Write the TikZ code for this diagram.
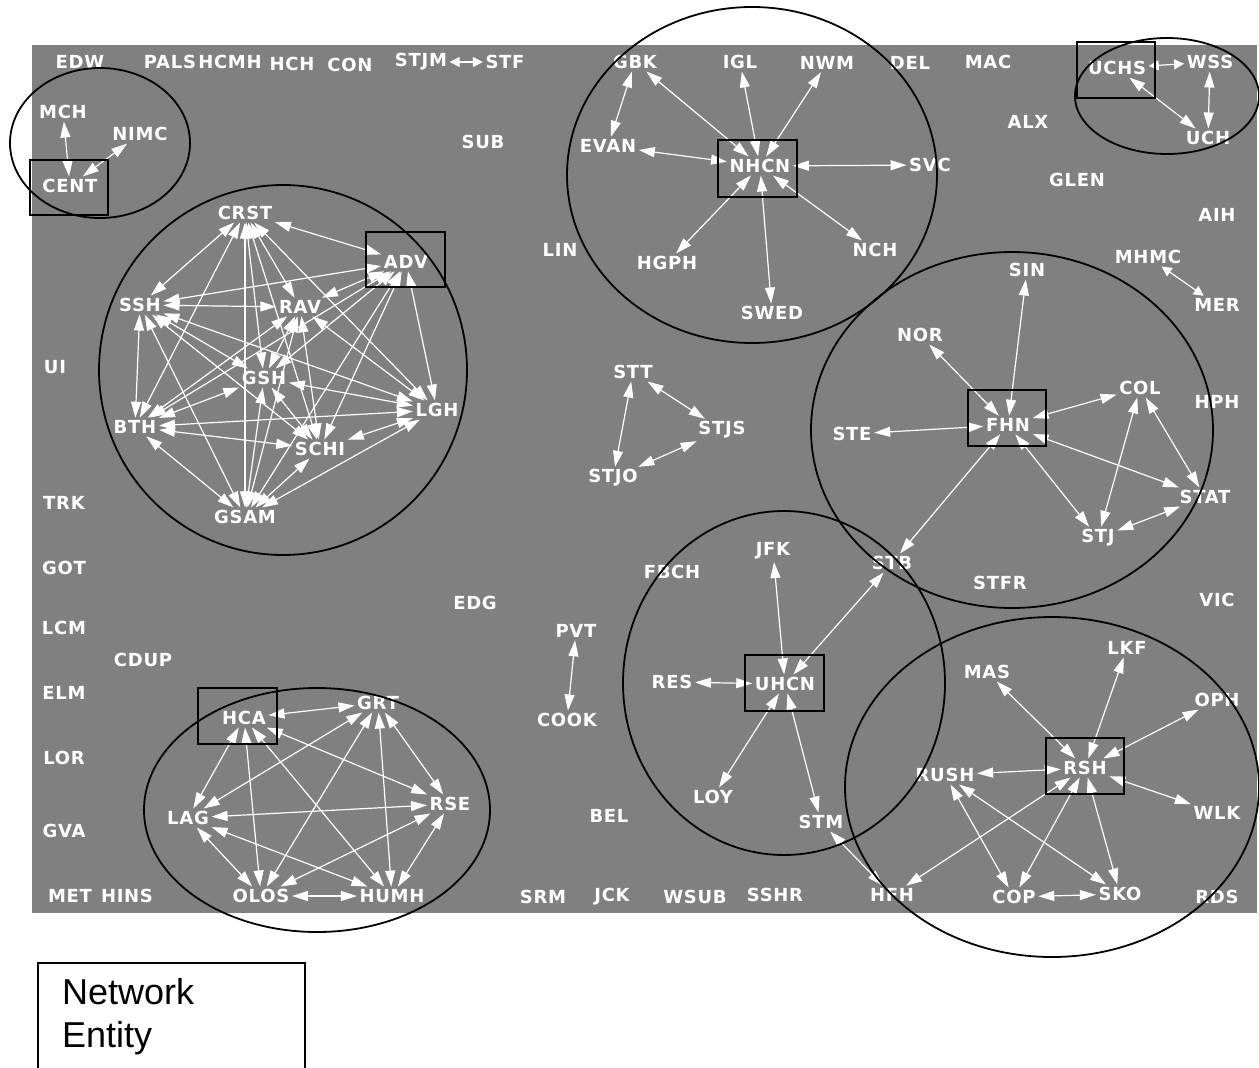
\documentclass[tikz,border=0pt]{standalone}
\usepackage{fontspec}
\usetikzlibrary{arrows.meta}
\newfontfamily\labfont{DejaVu Sans}[LetterSpace=4]
\newfontfamily\legfont{Liberation Sans}
\definecolor{bggray}{RGB}{128,128,128}
\begin{document}
\begin{tikzpicture}[x=1pt,y=-1pt,
  lab/.style={text=white,font=\labfont\bfseries\fontsize{18}{18}\selectfont,inner sep=2.5pt},
  con/.style={white,line width=1.2pt,{Triangle[length=16pt,width=10pt]}-{Triangle[length=16pt,width=10pt]}},
  small/.style={white,line width=1.2pt,{Triangle[length=10pt,width=10pt]}-{Triangle[length=10pt,width=10pt]}},
  hub/.style={draw=black,line width=1.8pt},
  grp/.style={draw=black,line width=1.8pt}]
\useasboundingbox (0,0) rectangle (1259,1068);
\fill[bggray] (32,45) rectangle (1257,913);

% ---------- labels ----------
\node[lab] (EDW)  at (80,62) {EDW};
\node[lab] (PALS) at (170,62) {PALS};
\node[lab] (HCMH) at (230,62) {HCMH};
\node[lab] (HCH)  at (292,64) {HCH};
\node[lab] (CON)  at (350,65) {CON};
\node[lab] (STJM) at (421,62) {STJM};
\node[lab] (STF)  at (505,62) {STF};
\node[lab] (MCH)  at (63,112) {MCH};
\node[lab] (NIMC) at (140,134) {NIMC};
\node[lab] (CENT) at (70,186) {CENT};
\node[lab] (SUB)  at (483,142) {SUB};
\node[lab] (GBK)  at (635,62) {GBK};
\node[lab] (IGL)  at (740,62) {IGL};
\node[lab] (NWM)  at (827,63) {NWM};
\node[lab] (DEL)  at (910,63) {DEL};
\node[lab] (MAC)  at (988,62) {MAC};
\node[lab] (UCHS) at (1117,68) {UCHS};
\node[lab] (WSS)  at (1210,62) {WSS};
\node[lab] (UCH)  at (1208,138) {UCH};
\node[lab] (ALX)  at (1028,122) {ALX};
\node[lab] (GLEN) at (1077,180) {GLEN};
\node[lab] (AIH)  at (1217,215) {AIH};
\node[lab] (MHMC) at (1148,257) {MHMC};
\node[lab] (MER)  at (1217,305) {MER};
\node[lab] (HPH)  at (1217,402) {HPH};
\node[lab] (VIC)  at (1217,600) {VIC};
\node[lab] (EVAN) at (608,146) {EVAN};
\node[lab] (NHCN) at (760,166) {NHCN};
\node[lab] (SVC)  at (930,165) {SVC};
\node[lab] (HGPH) at (667,263) {HGPH};
\node[lab] (SWED) at (772,313) {SWED};
\node[lab] (NCH)  at (875,250) {NCH};
\node[lab] (LIN)  at (560,250) {LIN};
\node[lab] (UI)   at (55,367) {UI};
\node[lab] (TRK)  at (64,503) {TRK};
\node[lab] (GOT)  at (64,568) {GOT};
\node[lab] (LCM)  at (64,628) {LCM};
\node[lab] (CDUP) at (143,660) {CDUP};
\node[lab] (ELM)  at (64,693) {ELM};
\node[lab] (LOR)  at (64,758) {LOR};
\node[lab] (GVA)  at (64,831) {GVA};
\node[lab] (MET)  at (70,896) {MET};
\node[lab] (HINS) at (127,896) {HINS};
% cluster 1
\node[lab] (CRST) at (245,213) {CRST};
\node[lab] (ADV)  at (406,262) {ADV};
\node[lab] (SSH)  at (140,305) {SSH};
\node[lab] (RAV)  at (300,307) {RAV};
\node[lab] (GSH)  at (264,378) {GSH};
\node[lab] (BTH)  at (135,427) {BTH};
\node[lab] (LGH)  at (437,410) {LGH};
\node[lab] (SCHI) at (320,449) {SCHI};
\node[lab] (GSAM) at (245,517) {GSAM};
% triangle
\node[lab] (STT)  at (633,372) {STT};
\node[lab] (STJS) at (722,430) {STJS};
\node[lab] (STJO) at (613,478) {STJO};
% FHN
\node[lab] (FHN)  at (1008,425) {FHN};
\node[lab] (SIN)  at (1027,270) {SIN};
\node[lab] (NOR)  at (920,335) {NOR};
\node[lab] (COL)  at (1140,388) {COL};
\node[lab] (STE)  at (852,434) {STE};
\node[lab] (STAT) at (1205,497) {STAT};
\node[lab] (STJ)  at (1098,538) {STJ};
\node[lab] (STB)  at (892,563) {STB};
\node[lab] (STFR) at (1000,583) {STFR};
% UHCN
\node[lab] (FBCH) at (672,572) {FBCH};
\node[lab] (EDG)  at (475,603) {EDG};
\node[lab] (JFK)  at (773,551) {JFK};
\node[lab] (UHCN) at (785,684) {UHCN};
\node[lab] (RES)  at (672,682) {RES};
\node[lab] (LOY)  at (713,797) {LOY};
\node[lab] (STM)  at (821,822) {STM};
\node[lab] (PVT)  at (576,631) {PVT};
\node[lab] (COOK) at (567,720) {COOK};
\node[lab] (BEL)  at (609,816) {BEL};
% bottom row
\node[lab] (SRM)  at (543,897) {SRM};
\node[lab] (JCK)  at (612,897) {JCK};
\node[lab] (WSUB) at (695,897) {WSUB};
\node[lab] (SSHR) at (775,895) {SSHR};
\node[lab] (HFH)  at (892,895) {HFH};
\node[lab] (COP)  at (1014,897) {COP};
\node[lab] (SKO)  at (1120,894) {SKO};
\node[lab] (RDS)  at (1217,897) {RDS};
% RSH
\node[lab] (RSH)  at (1085,768) {RSH};
\node[lab] (MAS)  at (987,672) {MAS};
\node[lab] (LKF)  at (1127,648) {LKF};
\node[lab] (OPH)  at (1217,700) {OPH};
\node[lab] (RUSH) at (945,775) {RUSH};
\node[lab] (WLK)  at (1217,813) {WLK};
% HCA
\node[lab] (HCA)  at (244,718) {HCA};
\node[lab] (GRT)  at (378,703) {GRT};
\node[lab] (LAG)  at (188,818) {LAG};
\node[lab] (RSE)  at (450,804) {RSE};
\node[lab] (OLOS) at (261,896) {OLOS};
\node[lab] (HUMH) at (392,896) {HUMH};

% ---------- connectors ----------
\draw[small] (STJM) -- (STF);
\draw[small] (UCHS) -- (WSS);
\draw[small] (MHMC) -- (MER);
\draw[con] (MCH) -- (CENT);
\draw[con] (NIMC) -- (CENT);
\draw[con] (UCHS) -- (UCH);
\draw[con] (WSS) -- (UCH);
\foreach \a in {GBK,IGL,NWM,EVAN,SVC,HGPH,SWED,NCH} \draw[con] (NHCN) -- (\a);
\draw[con] (GBK) -- (EVAN);
\foreach \a/\b in {CRST/ADV,CRST/SSH,CRST/RAV,CRST/GSH,CRST/BTH,CRST/LGH,CRST/SCHI,CRST/GSAM,
  ADV/SSH,ADV/RAV,ADV/GSH,ADV/BTH,ADV/LGH,ADV/SCHI,ADV/GSAM,
  SSH/RAV,SSH/GSH,SSH/BTH,SSH/LGH,SSH/SCHI,SSH/GSAM,
  RAV/GSH,RAV/BTH,RAV/LGH,RAV/SCHI,RAV/GSAM,
  GSH/BTH,GSH/LGH,GSH/SCHI,GSH/GSAM,
  BTH/LGH,BTH/SCHI,BTH/GSAM,
  LGH/SCHI,LGH/GSAM,
  SCHI/GSAM} \draw[con] (\a) -- (\b);
\draw[con] (STT) -- (STJO);
\draw[con] (STT) -- (STJS);
\draw[con] (STJO) -- (STJS);
\foreach \a in {SIN,NOR,COL,STE,STAT,STJ,STB} \draw[con] (FHN) -- (\a);
\draw[con] (COL) -- (STJ);
\draw[con] (COL) -- (STAT);
\draw[con] (STJ) -- (STAT);
\foreach \a in {JFK,STB,RES,LOY,STM} \draw[con] (UHCN) -- (\a);
\draw[con] (PVT) -- (COOK);
\foreach \a in {MAS,LKF,OPH,RUSH,WLK,HFH,COP,SKO} \draw[con] (RSH) -- (\a);
\draw[con] (RUSH) -- (COP);
\draw[con] (RUSH) -- (SKO);
\draw[con] (COP) -- (SKO);
\draw[con] (STM) -- (HFH);
\foreach \a/\b in {HCA/GRT,HCA/LAG,HCA/RSE,HCA/OLOS,HCA/HUMH,GRT/LAG,GRT/RSE,GRT/OLOS,GRT/HUMH,
  LAG/RSE,LAG/OLOS,LAG/HUMH,RSE/OLOS,RSE/HUMH,OLOS/HUMH} \draw[con] (\a) -- (\b);

% ---------- hub boxes ----------
\draw[hub] (30,160) rectangle (108,215);
\draw[hub] (366,232) rectangle (445,287);
\draw[hub] (718,140) rectangle (797,197);
\draw[hub] (1077,42) rectangle (1155,98);
\draw[hub] (968,390) rectangle (1046,446);
\draw[hub] (745,655) rectangle (824,711);
\draw[hub] (1046,738) rectangle (1124,794);
\draw[hub] (198,688) rectangle (277,744);

% ---------- group ellipses ----------
\draw[grp] (100,143) ellipse [x radius=90,y radius=75];
\draw[grp] (283,370) ellipse [x radius=184,y radius=185];
\draw[grp] (752,175) ellipse [x radius=185,y radius=168];
\draw[grp] (1167,96) ellipse [x radius=92,y radius=58];
\draw[grp] (1012,430) ellipse [x radius=201,y radius=178];
\draw[grp] (784,683) ellipse [x radius=161,y radius=172];
\draw[grp] (1052,787) ellipse [x radius=207,y radius=170];
\draw[grp] (317,810) ellipse [x radius=173,y radius=122];

% ---------- legend ----------
\draw[line width=1.3pt] (38,1075) -- (38,963) -- (305,963) -- (305,1075);
\node[anchor=north west,align=left,inner sep=0pt,font=\legfont\fontsize{36}{43}\selectfont] (legend) at (62,978) {Network\\Entity};
\end{tikzpicture}
\end{document}
